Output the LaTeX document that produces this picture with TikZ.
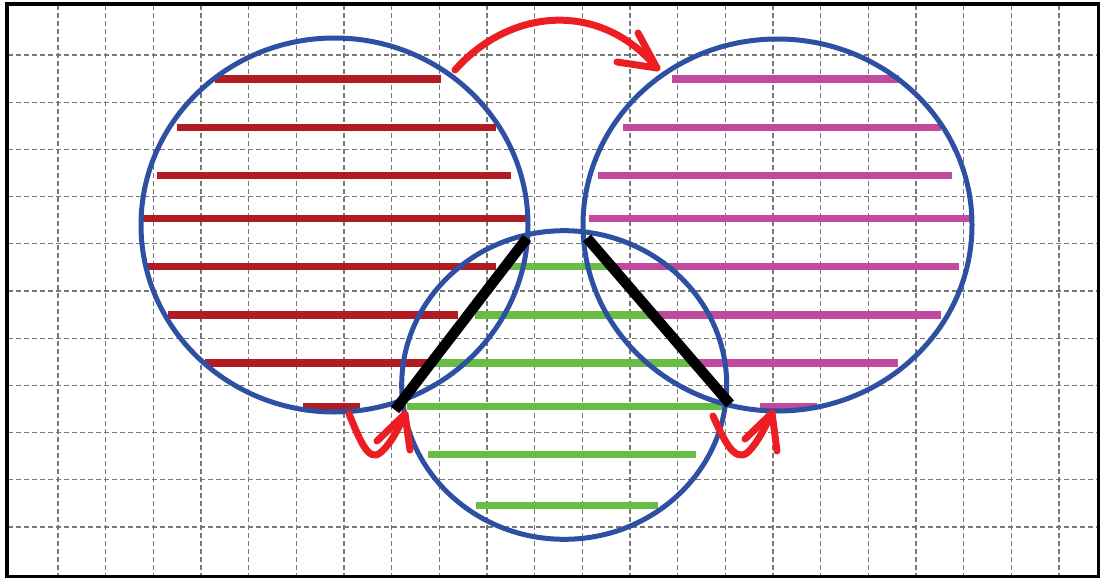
\documentclass[tikz,border=0pt]{standalone}
\definecolor{gridgray}{RGB}{120,120,120}
\definecolor{ringblue}{RGB}{46,80,163}
\definecolor{barred}{RGB}{176,28,34}
\definecolor{barmag}{RGB}{192,74,155}
\definecolor{bargreen}{RGB}{104,189,70}
\definecolor{arrowred}{RGB}{236,30,36}
\begin{document}
\begin{tikzpicture}[x=1pt,y=-1pt,
  gridline/.style={draw=gridgray, line width=1.2pt, dash pattern=on 5pt off 3pt},
  ring/.style={draw=ringblue, line width=5pt},
  redbar/.style={draw=barred, line width=7.5pt},
  magbar/.style={draw=barmag, line width=7.5pt},
  greenbar/.style={draw=bargreen, line width=7.5pt},
  blackbar/.style={draw=black, line width=10.5pt},
  curvearrow/.style={draw=arrowred, line width=7pt, line cap=round, line join=round}]
\useasboundingbox (0,0) rectangle (1102,580);
\fill[white] (0,0) rectangle (1102,580);
% grid
\foreach \k in {0,...,21} \draw[gridline] ({58+47.67*\k},5) -- ({58+47.67*\k},575);
\foreach \k in {0,...,10} \draw[gridline] (8,{55+47.2*\k}) -- (1097,{55+47.2*\k});
% frame
\draw[line width=3.5pt] (7,4) rectangle (1098.5,576.5);
% left bars
\draw[redbar] (215,79) -- (441,79);
\draw[redbar] (177,127.3) -- (495.7,127.3);
\draw[redbar] (156.5,175.5) -- (511,175.5);
\draw[redbar] (143,218.3) -- (528,218.3);
\draw[redbar] (146,266.7) -- (495.7,266.7);
\draw[redbar] (168,315) -- (458,315);
\draw[redbar] (205,362.8) -- (432,362.8);
\draw[redbar] (303,406.5) -- (360,406.5);
% right bars
\draw[magbar] (672,79) -- (899,79);
\draw[magbar] (622.7,127.3) -- (940.7,127.3);
\draw[magbar] (598,175.5) -- (952.3,175.5);
\draw[magbar] (589,218.3) -- (973,218.3);
\draw[magbar] (615,266.7) -- (959,266.7);
\draw[magbar] (653,315) -- (941,315);
\draw[magbar] (695,362.8) -- (898,362.8);
\draw[magbar] (760,406.5) -- (817,406.5);
% lower bars
\draw[greenbar] (510,266.7) -- (615,266.7);
\draw[greenbar] (475,315) -- (653,315);
\draw[greenbar] (432,362.8) -- (695,362.8);
\draw[greenbar] (407,406.5) -- (723,406.5);
\draw[greenbar] (428,454.5) -- (696,454.5);
\draw[greenbar] (476,505.5) -- (658,505.5);
% rings
\draw[ring] (334.5,225) ellipse [x radius=193.5pt, y radius=187pt];
\draw[ring] (777.5,225) ellipse [x radius=194.5pt, y radius=186pt];
\draw[ring] (564.2,385) ellipse [x radius=162.5pt, y radius=154.3pt];
% black triangle sides
\coordinate (apexL) at (527,238);
\coordinate (baseL) at (395,410);
\coordinate (apexR) at (587,238);
\coordinate (baseR) at (730,404);
\draw[blackbar] (apexL) -- (baseL);
\draw[blackbar] (apexR) -- (baseR);
% red arrows
\coordinate (tS) at (455,70);
\coordinate (tE) at (657,68);
\draw[curvearrow] (tS) .. controls (510,8) and (600,0) .. (tE);
\draw[curvearrow] (638,33) -- (tE) -- (617,62);
\coordinate (lS) at (349,414);
\coordinate (lE) at (405,414);
\draw[curvearrow] (lS) .. controls (360,440) and (368,462) .. (380,453) .. controls (392,443) and (400,425) .. (lE);
\draw[curvearrow] (377,441) -- (lE) -- (410,450);
\coordinate (rS) at (713,416);
\coordinate (rE) at (772,413);
\draw[curvearrow] (rS) .. controls (724,440) and (734,462) .. (747,453) .. controls (758,443) and (766,425) .. (rE);
\draw[curvearrow] (745,439) -- (rE) -- (777,451);
\end{tikzpicture}
\end{document}
